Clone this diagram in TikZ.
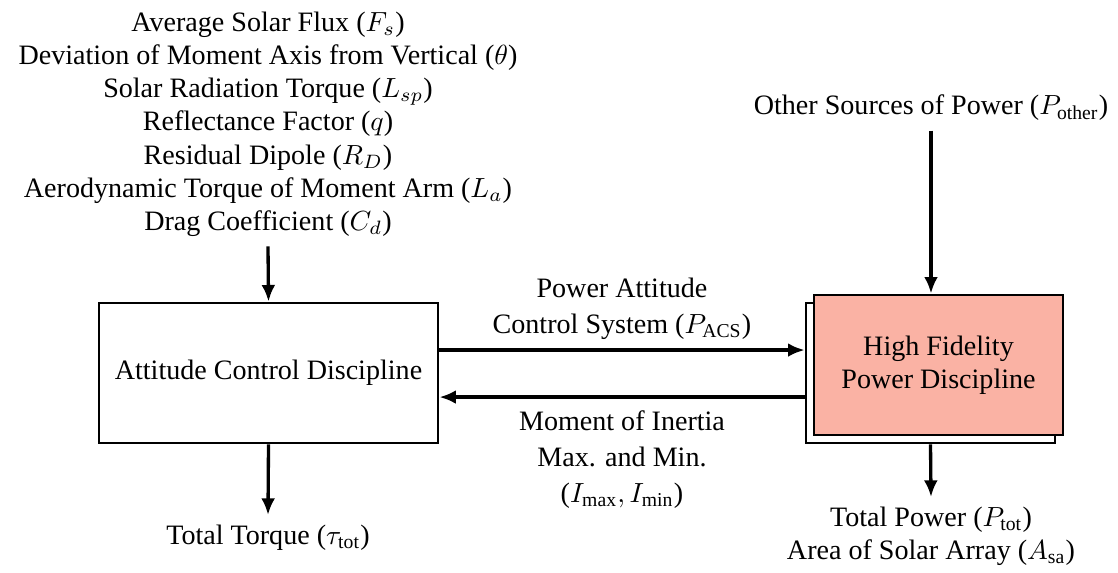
\documentclass[tikz,border=0pt]{standalone}
\usepackage{fontspec}
\setmainfont{Liberation Serif}
\usetikzlibrary{arrows.meta}
\definecolor{hfpink}{RGB}{250,178,164}
\tikzset{
  disc/.style={draw,line width=1pt,minimum height=50.6pt,align=center},
  flow/.style={-{Latex[length=6pt,width=5pt]},line width=1.2pt},
  lbl/.style={align=center,font=\fontsize{10.15}{12}\selectfont}
}
\begin{document}
\begin{tikzpicture}[x=0.3614pt,y=-0.3614pt]
\useasboundingbox (0,0) rectangle (1118,573);
% discipline boxes
\node[disc,lbl,minimum width=122.5pt] (acd) at (268.5,373) {Attitude Control Discipline};
\node[disc,fill=white,minimum width=90pt] (hfb) at (930.5,373) {};
\node[disc,lbl,fill=hfpink,minimum width=90pt] (hf) at (938.5,365) {High Fidelity\\Power Discipline};
% inputs and outputs
\node[lbl,anchor=north] (inputs) at (268,2) {Average Solar Flux ($F_s$)\\
  Deviation of Moment Axis from Vertical ($\theta$)\\
  Solar Radiation Torque ($L_{sp}$)\\
  Reflectance Factor ($q$)\\
  Residual Dipole ($R_D$)\\
  Aerodynamic Torque of Moment Arm ($L_a$)\\
  Drag Coefficient ($C_d$)};
\node[lbl,anchor=north] (torque) at (268,515) {Total Torque ($\tau_{\mathrm{tot}}$)};
\node[lbl] (psrc) at (931,108) {Other Sources of Power ($P_{\mathrm{other}}$)};
\node[lbl,anchor=north] (pout) at (931,497) {Total Power ($P_{\mathrm{tot}}$)\\Area of Solar Array ($A_{\mathrm{sa}}$)};
% connectors
\draw[flow] (inputs.south) -- (acd.north);
\draw[flow] (acd.south) -- (torque.north);
\draw[flow] (psrc.south) -- (psrc.south |- hf.north);
\draw[flow] (hfb.south) -- (pout.north);
\draw[flow] ([yshift=8.3pt]acd.east) -- node[lbl,above] {Power Attitude\\[1pt]Control System ($P_{\mathrm{ACS}}$)} ([yshift=8.3pt]hfb.west);
\draw[flow] ([yshift=-8.7pt]hfb.west) -- node[lbl,below,yshift=-1pt] {Moment of Inertia\\[1pt]Max. and Min.\\[1pt]($I_{\mathrm{max}},I_{\mathrm{min}}$)} ([yshift=-8.7pt]acd.east);
\end{tikzpicture}
\end{document}
